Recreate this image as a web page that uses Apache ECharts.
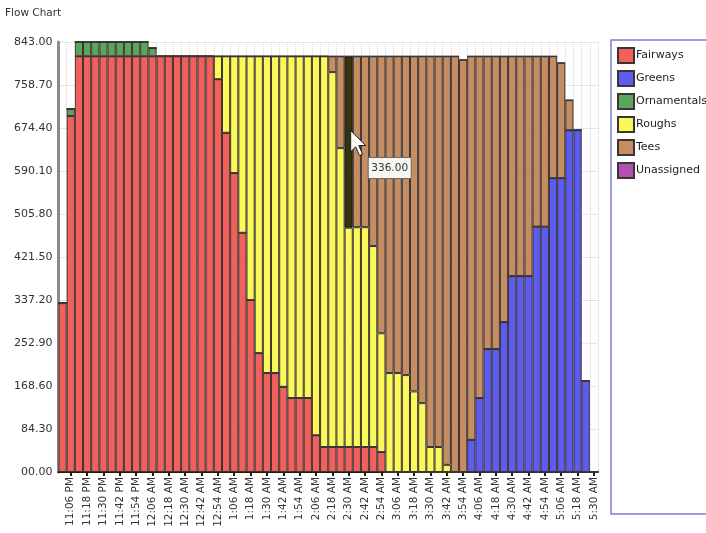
<!DOCTYPE html>
<html>
<head>
<meta charset="utf-8">
<script src="https://cdn.jsdelivr.net/npm/echarts@6/dist/echarts.min.js"></script>
<style>
  html, body { margin: 0; padding: 0; background: #fff; }
  #chart { width: 706px; height: 533px; }
</style>
</head>
<body>
<div id="chart"></div>
<script>
let chartDom = document.getElementById('chart');

// one bar every 6 minutes, 11:00 PM .. 5:30 AM
var times = [
    "11:00 PM", "11:06 PM", "11:12 PM", "11:18 PM", "11:24 PM", "11:30 PM", "11:36 PM", "11:42 PM", "11:48 PM", "11:54 PM",
    "12:00 AM", "12:06 AM", "12:12 AM", "12:18 AM", "12:24 AM", "12:30 AM", "12:36 AM", "12:42 AM", "12:48 AM", "12:54 AM",
    "1:00 AM", "1:06 AM", "1:12 AM", "1:18 AM", "1:24 AM", "1:30 AM", "1:36 AM", "1:42 AM", "1:48 AM", "1:54 AM",
    "2:00 AM", "2:06 AM", "2:12 AM", "2:18 AM", "2:24 AM", "2:30 AM", "2:36 AM", "2:42 AM", "2:48 AM", "2:54 AM",
    "3:00 AM", "3:06 AM", "3:12 AM", "3:18 AM", "3:24 AM", "3:30 AM", "3:36 AM", "3:42 AM", "3:48 AM", "3:54 AM",
    "4:00 AM", "4:06 AM", "4:12 AM", "4:18 AM", "4:24 AM", "4:30 AM", "4:36 AM", "4:42 AM", "4:48 AM", "4:54 AM",
    "5:00 AM", "5:06 AM", "5:12 AM", "5:18 AM", "5:24 AM", "5:30 AM"
]

var fairways = [
    331, 698, 815, 815, 815, 815, 815, 815, 815, 815,
    815, 815, 815, 815, 815, 815, 815, 815, 815, 770,
    665, 586, 469, 337, 233, 194, 194, 167, 145, 145,
    145, 72, 49, 49, 49, 49, 49, 49, 49, 39,
    0, 0, 0, 0, 0, 0, 0, 0, 0, 0,
    0, 0, 0, 0, 0, 0, 0, 0, 0, 0,
    0, 0, 0, 0, 0, 0
]
var greens = [
    0, 0, 0, 0, 0, 0, 0, 0, 0, 0,
    0, 0, 0, 0, 0, 0, 0, 0, 0, 0,
    0, 0, 0, 0, 0, 0, 0, 0, 0, 0,
    0, 0, 0, 0, 0, 0, 0, 0, 0, 0,
    0, 0, 0, 0, 0, 0, 0, 0, 0, 0,
    63, 145, 241, 241, 294, 384, 384, 384, 481, 481,
    576, 576, 670, 670, 179, 0
]
var ornamentals = [
    0, 14, 28, 28, 28, 28, 28, 28, 28, 28,
    28, 16, 0, 0, 0, 0, 0, 0, 0, 0,
    0, 0, 0, 0, 0, 0, 0, 0, 0, 0,
    0, 0, 0, 0, 0, 0, 0, 0, 0, 0,
    0, 0, 0, 0, 0, 0, 0, 0, 0, 0,
    0, 0, 0, 0, 0, 0, 0, 0, 0, 0,
    0, 0, 0, 0, 0, 0
]
var roughs = [
    0, 0, 0, 0, 0, 0, 0, 0, 0, 0,
    0, 0, 0, 0, 0, 0, 0, 0, 0, 45,
    150, 229, 346, 478, 582, 621, 621, 648, 670, 670,
    670, 743, 766, 735, 586, 430, 431, 431, 394, 233,
    194, 194, 190, 158, 135, 49, 49, 14, 0, 0,
    0, 0, 0, 0, 0, 0, 0, 0, 0, 0,
    0, 0, 0, 0, 0, 0
]
var tees = [
    0, 0, 0, 0, 0, 0, 0, 0, 0, 0,
    0, 0, 0, 0, 0, 0, 0, 0, 0, 0,
    0, 0, 0, 0, 0, 0, 0, 0, 0, 0,
    0, 0, 0, 31, 180, 336, 335, 335, 372, 543,
    621, 621, 625, 657, 680, 766, 766, 801, 815, 808,
    752, 670, 574, 574, 521, 431, 431, 431, 334, 334,
    239, 226, 59, 0, 0, 0
]
var unassigned = [
    0, 0, 0, 0, 0, 0, 0, 0, 0, 0,
    0, 0, 0, 0, 0, 0, 0, 0, 0, 0,
    0, 0, 0, 0, 0, 0, 0, 0, 0, 0,
    0, 0, 0, 0, 0, 0, 0, 0, 0, 0,
    0, 0, 0, 0, 0, 0, 0, 0, 0, 0,
    0, 0, 0, 0, 0, 0, 0, 0, 0, 0,
    0, 0, 0, 0, 0, 0
]

var hoverIndex = 35   // the bar under the mouse in the screenshot (Tees, 336)

var font = "DejaVu Sans"

function everyOther(index) {
    return index % 2 === 1
}

function makeSeries(name, values, color) {
    return {
        name: name,
        type: 'bar',
        stack: 'flow',
        barCategoryGap: '0%',
        data: values.map(function (v, i) {
            if (name === 'Tees' && i === hoverIndex) {
                return { value: v, itemStyle: { color: '#34320f', borderColor: '#111' } }
            }
            return v
        }),
        itemStyle: {
            color: color,
            borderColor: '#3c3434',
            borderWidth: 1
        }
    }
}

var option = {
    animation: false,
    title: {
        text: 'Flow Chart',
        left: 5,
        top: 8,
        padding: 0,
        textStyle: { fontSize: 10.5, fontWeight: 'normal', color: '#333', fontFamily: font }
    },
    legend: {
        orient: 'vertical',
        left: 617,
        top: 47,
        padding: 0,
        icon: 'rect',
        itemWidth: 16,
        itemHeight: 15,
        itemGap: 6,
        textStyle: { fontSize: 11, color: '#222', fontFamily: font, padding: [0, 0, 0, -3] },
        data: ['Fairways', 'Greens', 'Ornamentals', 'Roughs', 'Tees', 'Unassigned']
    },
    grid: { left: 58.5, right: 108, top: 42, bottom: 61 },
    xAxis: {
        type: 'category',
        data: times,
        axisLine: { lineStyle: { color: '#1c1c1c', width: 2 } },
        axisTick: {
            show: true,
            interval: everyOther,
            alignWithLabel: true,
            length: 4,
            lineStyle: { color: '#1c1c1c', width: 2 }
        },
        axisLabel: {
            interval: everyOther,
            rotate: 90,
            margin: 5,
            fontSize: 10.5,
            color: '#333',
            fontFamily: font
        },
        splitLine: {
            show: true,
            interval: 0,
            lineStyle: { color: '#d4d4d4', type: 'dotted' }
        }
    },
    yAxis: {
        type: 'value',
        min: 0,
        max: 843,
        interval: 84.3,
        axisLine: { show: true, lineStyle: { color: '#8a8a8a', width: 3 } },
        axisTick: { show: false },
        axisLabel: {
            margin: 6,
            fontSize: 11,
            color: '#333',
            fontFamily: font,
            formatter: function (v) {
                return v === 0 ? '00.00' : v.toFixed(2)
            }
        },
        splitLine: { lineStyle: { color: '#cfcfcf', type: 'dotted' } }
    },
    series: [
        makeSeries('Fairways', fairways, '#f2605c'),
        makeSeries('Greens', greens, '#5c5cf2'),
        makeSeries('Ornamentals', ornamentals, '#5ca55c'),
        makeSeries('Roughs', roughs, '#fbf957'),
        makeSeries('Tees', tees, '#c48d62'),
        makeSeries('Unassigned', unassigned, '#b050b0')
    ]
};

var chart = echarts.init(chartDom);
chart.setOption(option, true);

// legend frame, hover tooltip and mouse pointer from the screenshot
var tip = chart.convertToPixel({ xAxisIndex: 0, yAxisIndex: 0 }, [hoverIndex, 640])
chart.setOption({
    graphic: [
        {
            type: 'rect',
            x: 611, y: 40,
            shape: { x: 0, y: 0, width: 110, height: 474 },
            style: { fill: 'none', stroke: '#7c7cd4', lineWidth: 1.5 },
            z: 50
        },
        {
            type: 'rect',
            x: tip[0] + 19.5,
            y: tip[1] + 12,
            shape: { x: 0, y: 0, width: 43, height: 21 },
            style: { fill: '#f7f7f2', stroke: '#6a6a6a', lineWidth: 1 },
            z: 100
        },
        {
            type: 'text',
            x: tip[0] + 41,
            y: tip[1] + 22.5,
            style: { text: '336.00', fontSize: 10.5, fontFamily: font, fill: '#333', align: 'center', verticalAlign: 'middle' },
            z: 101
        },
        {
            type: 'polygon',
            x: tip[0] + 2,
            y: tip[1] - 15,
            scaleX: 1.25,
            scaleY: 1.25,
            shape: { points: [[0, 0], [0, 17], [4, 13], [7, 20], [9.5, 19], [6.5, 12], [12, 12]] },
            style: { fill: '#fff', stroke: '#222', lineWidth: 0.8 },
            z: 102
        }
    ]
});
</script>
</body>
</html>
